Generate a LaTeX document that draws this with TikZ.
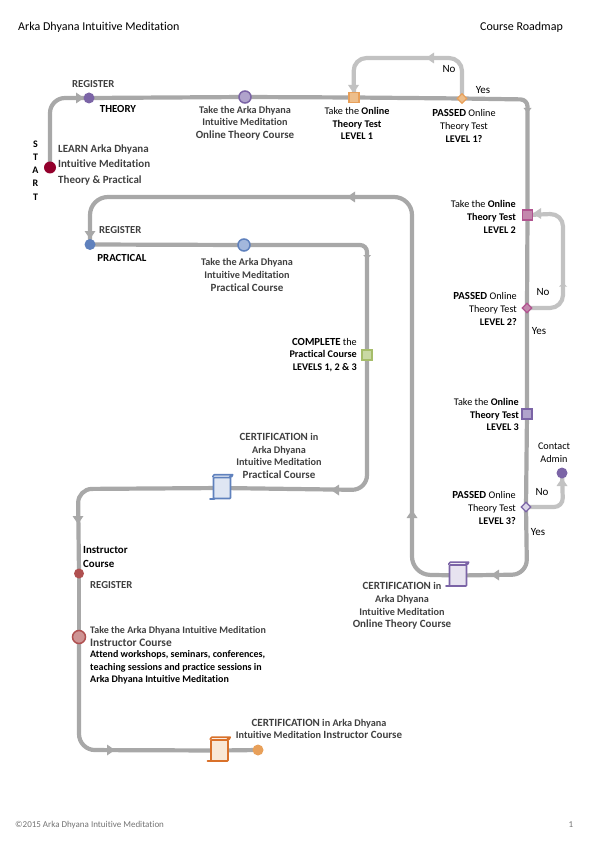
\documentclass[tikz,border=0pt]{standalone}
\usepackage{fontspec}
\setmainfont[Ligatures=NoCommon]{Carlito}
\usetikzlibrary{shapes.geometric,backgrounds}
\definecolor{mainline}{HTML}{A8A8A8}
\definecolor{lightline}{HTML}{C2C2C2}
\definecolor{txtgray}{HTML}{404040}
\definecolor{purp}{HTML}{7B64A6}
\definecolor{purpl}{HTML}{B0A3CC}
\definecolor{blu}{HTML}{5F81BD}
\definecolor{blul}{HTML}{A3B7DC}
\definecolor{orng}{HTML}{E8A05A}
\definecolor{orngl}{HTML}{EDBE8B}
\definecolor{pnk}{HTML}{B0548F}
\definecolor{pnkl}{HTML}{C388AD}
\definecolor{grn}{HTML}{A6BD6A}
\definecolor{grnl}{HTML}{C9D9A4}
\definecolor{redd}{HTML}{93002C}
\definecolor{rosy}{HTML}{AF5050}
\definecolor{rosyl}{HTML}{CE9494}
\definecolor{scrO}{HTML}{D9712A}
\newcommand{\fsA}{\fontsize{10.2}{12.6}\selectfont}
\newcommand{\fsB}{\fontsize{11}{12.6}\selectfont}
\newcommand{\fsC}{\fontsize{10.8}{12.6}\selectfont}
\tikzset{
  mainpath/.style={draw=mainline,line width=4.2pt},
  lightpath/.style={draw=lightline,line width=4.2pt},
  dotnode/.style={circle,inner sep=0pt,minimum size=#1},
  ringnode/.style={circle,inner sep=0pt,minimum size=#1,line width=1.5pt},
  sqnode/.style={rectangle,inner sep=0pt,minimum size=10pt,line width=1.5pt},
  dianode/.style={diamond,inner sep=0pt,minimum size=10pt,line width=1.2pt},
  scrollnode/.style={rectangle,rounded corners=0.8pt,inner sep=0pt,minimum width=17pt,minimum height=21pt,line width=1.6pt},
  lbl/.style={inner sep=0pt,align=center,text=black,font=\fsA},
  lblr/.style={lbl,align=right,anchor=east},
  lbll/.style={lbl,align=left,anchor=west},
  gry/.style={text=txtgray,font=\fsA\bfseries},
  yn/.style={inner sep=0pt,text=black,font=\fontsize{11}{12}\selectfont},
}
\newcommand{\tipR}[3][mainline]{\fill[#1] (#2+3,#3) -- (#2-5,#3-5.5) -- (#2-5,#3+5.5) -- cycle;}
\newcommand{\tipL}[3][mainline]{\fill[#1] (#2-3,#3) -- (#2+5,#3-5.5) -- (#2+5,#3+5.5) -- cycle;}
\newcommand{\tipD}[3][mainline]{\fill[#1] (#2,#3+3) -- (#2-5.5,#3-5) -- (#2+5.5,#3-5) -- cycle;}
\newcommand{\tipU}[3][mainline]{\fill[#1] (#2,#3-3) -- (#2-5.5,#3+5) -- (#2+5.5,#3+5) -- cycle;}
\newcommand{\rolls}[2]{%
  \draw[#2,line width=1.6pt,line join=round,line cap=round] (#1.north west) -- ++(1.5,-2) -- ++(18.5,0) -- ++(-1,2) -- ++(-2,0);
  \draw[#2,line width=2.4pt,line cap=round] (#1.south west) ++(-2.5,-0.6) -- ++(4,0);
}
\begin{document}
\begin{tikzpicture}[x=1pt,y=-1pt]
\useasboundingbox (0,0) rectangle (595,842);
% waypoints
\coordinate (c1) at (50,98);
\coordinate (c2) at (527.5,99.5);
\coordinate (c3) at (527,574.5);
\coordinate (c4) at (412,574.5);
\coordinate (c5) at (412,197);
\coordinate (c6) at (90,197);
\coordinate (c7) at (367,245);
\coordinate (c8) at (367,490);
\coordinate (c9) at (78,489);
\coordinate (c10) at (79,750);
\coordinate (l1) at (462,58);
\coordinate (l2) at (353.5,58);
\coordinate (l3) at (563,308);
\coordinate (l4) at (563,213.5);
\coordinate (l5) at (563,507);
% nodes
\node[dotnode=12pt,fill=redd] (start) at (50,167.5) {};
\node[dotnode=11pt,fill=purp] (regT) at (89,98) {};
\node[ringnode=12pt,draw=purp,fill=purpl] (courseT) at (245,97) {};
\node[sqnode,draw=orng,fill=orngl] (test1) at (354,97.5) {};
\node[dianode,draw=orng,fill=orngl] (pass1) at (462,98.5) {};
\node[sqnode,draw=pnk,fill=pnkl] (test2) at (527.5,215) {};
\node[dianode,draw=pnk,fill=pnkl] (pass2) at (527,308) {};
\node[sqnode,draw=purp,fill=purpl] (test3) at (527,414) {};
\node[dianode,draw=purp,fill=purpl!45] (pass3) at (526,507) {};
\node[dotnode=11pt,fill=purp] (admin) at (562,473) {};
\node[scrollnode,draw=purp,fill=purpl!30] (certT) at (458,575.5) {};
\node[dotnode=11pt,fill=blu] (regP) at (90,244.5) {};
\node[ringnode=12pt,draw=blu,fill=blul] (courseP) at (244,245) {};
\node[sqnode,draw=grn,fill=grnl] (complete) at (367,355) {};
\node[scrollnode,draw=blu,fill=blul!35] (certP) at (222,488) {};
\node[dotnode=10pt,fill=rosy] (regI) at (79,573.5) {};
\node[ringnode=13pt,draw=rosy,fill=rosyl] (courseI) at (79,637) {};
\node[scrollnode,draw=scrO,fill=orngl!35] (certI) at (219.5,750.5) {};
\node[dotnode=11pt,fill=orng] (endI) at (258,750) {};
\rolls{certT}{purp}
\rolls{certP}{blu}
\rolls{certI}{scrO}
% connectors
\begin{pgfonlayer}{background}
\draw[lightpath,rounded corners=13pt] (pass1.center) -- (l1) -- (l2) -- (test1.center);
\draw[lightpath,rounded corners=13pt] (pass2.center) -- (l3) -- (l4) -- (test2.center);
\draw[lightpath,rounded corners=9pt] (pass3.center) -- (l5) -- (admin.center);
\tipL[lightline]{429}{58}
\tipD[lightline]{353.5}{90}
\tipL[lightline]{536}{213.5}
\fill[lightline] (563,283) -- (559,286.5) -- (567,286.5) -- cycle;
\tipU[lightline]{562}{481}
\draw[mainpath,rounded corners=15pt] (start.center) -- (c1) -- (regT.center);
\draw[mainpath] (regT.center) -- (courseT.center) -- (test1.center) -- (pass1.center);
\draw[mainpath,rounded corners=7pt] (pass1.center) -- (c2) -- (test2.center);
\draw[mainpath] (test2.center) -- (pass2.center) -- (test3.center) -- (pass3.center);
\draw[mainpath,rounded corners=15pt] (pass3.center) -- (c3) -- (certT.center);
\draw[mainpath,rounded corners=18pt] (certT.center) -- (c4) -- (c5) -- (c6) -- (regP.center);
\draw[mainpath] (regP.center) -- (courseP.center);
\draw[mainpath,rounded corners=7pt] (courseP.center) -- (c7) -- (complete.center);
\draw[mainpath,rounded corners=15pt] (complete.center) -- (c8) -- (certP.center);
\draw[mainpath,rounded corners=14pt] (certP.center) -- (c9) -- (regI.center);
\draw[mainpath] (regI.center) -- (courseI.center);
\draw[mainpath,rounded corners=16pt] (courseI.center) -- (c10) -- (certI.center);
\draw[mainpath] (certI.center) -- (endI.center);
\tipR{81}{98}
\fill[mainline] (527.5,113) -- (523.5,108) -- (531.5,108) -- cycle;
\tipL{494}{575}
\tipU{412}{513}
\tipL{350}{197}
\tipD{90}{236}
\fill[mainline] (367,259) -- (363,255) -- (371,255) -- cycle;
\tipL{334}{490}
\tipD{78}{521}
\tipR{112}{750}
\end{pgfonlayer}
% labels
\node[inner sep=0pt,anchor=west,font=\fontsize{12}{14}\selectfont] (hdrL) at (18,27) {Arka Dhyana Intuitive Meditation};
\node[inner sep=0pt,anchor=east,font=\fontsize{12}{14}\selectfont] (hdrR) at (563,27.5) {Course Roadmap};
\node[inner sep=0pt,anchor=west,text=black!55,font=\fontsize{9}{10}\selectfont] (ftL) at (15,825) {©2015 Arka Dhyana Intuitive Meditation};
\node[inner sep=0pt,text=black!55,font=\fontsize{9}{10}\selectfont] (ftR) at (571,825) {1};

\node[lbll,text=txtgray,font=\fontsize{10.7}{12}\selectfont\bfseries] (tRegT) at (72,84) {REGISTER};
\node[lbl,font=\fontsize{10.8}{12}\selectfont\bfseries] (tTheory) at (118,108.5) {THEORY};
\node[lbl,font=\fontsize{10}{13.2}\selectfont\bfseries] (tStart) at (35.5,170.5) {S\\T\\A\\R\\T};
\node[lbll,text=txtgray,font=\fontsize{11}{15.7}\selectfont\bfseries] (tLearn) at (58,165) {LEARN Arka Dhyana\\Intuitive Meditation\\Theory \& Practical};
\node[lbl,gry] (tCourseT) at (245,123) {Take the Arka Dhyana\\Intuitive Meditation\\{\fsB Online Theory Course}};
\node[lbl] (tTest1) at (357,123.5) {Take the \textbf{Online}\\\textbf{Theory Test}\\\textbf{LEVEL 1}};
\node[lbl] (tPass1) at (464,126) {{\fsC\textbf{PASSED}} Online\\Theory Test\\\textbf{LEVEL 1?}};
\node[yn] (no1) at (449,69) {No};
\node[yn] (yes1) at (483,90.5) {Yes};
\node[lblr] (tTest2) at (516,217) {Take the \textbf{Online}\\\textbf{Theory Test}\\\textbf{LEVEL 2}};
\node[lblr] (tPass2) at (517,309) {{\fsC\textbf{PASSED}} Online\\Theory Test\\\textbf{LEVEL 2?}};
\node[yn] (no2) at (543,292.5) {No};
\node[yn] (yes2) at (539,331.5) {Yes};
\node[lblr] (tTest3) at (519,414.5) {Take the \textbf{Online}\\\textbf{Theory Test}\\\textbf{LEVEL 3}};
\node[lblr] (tPass3) at (516,508) {{\fsC\textbf{PASSED}} Online\\Theory Test\\\textbf{LEVEL 3?}};
\node[lbl] (tAdmin) at (554,453) {Contact\\Admin};
\node[yn] (no3) at (542,492) {No};
\node[yn] (yes3) at (538,532) {Yes};
\node[lbl,gry] (tCertT) at (402,606) {{\fsB CERTIFICATION {\fsA in}}\\Arka Dhyana\\Intuitive Meditation\\{\fsB Online Theory Course}};
\node[lbll,text=txtgray,font=\fontsize{10.7}{12}\selectfont\bfseries] (tRegP) at (99,230.5) {REGISTER};
\node[lbl,font=\fontsize{10.8}{12}\selectfont\bfseries] (tPractical) at (122,258) {PRACTICAL};
\node[lbl,gry] (tCourseP) at (247,275) {Take the Arka Dhyana\\Intuitive Meditation\\{\fsB Practical Course}};
\node[lblr] (tComplete) at (357,355) {{\fsC\textbf{COMPLETE}} the\\\textbf{Practical Course}\\\textbf{LEVELS 1, 2 \& 3}};
\node[lbl,gry] (tCertP) at (279,456) {{\fsB CERTIFICATION {\fsA in}}\\Arka Dhyana\\Intuitive Meditation\\{\fsB Practical Course}};
\node[lbll,font=\fontsize{10.9}{13.6}\selectfont\bfseries] (tInstr) at (83,557) {Instructor\\Course};
\node[lbll,text=txtgray,font=\fontsize{10.7}{12}\selectfont\bfseries] (tRegI) at (90,585.5) {REGISTER};
\node[lbll,text=txtgray,font=\fontsize{10}{12.6}\selectfont\bfseries] (tCourseI) at (90,636.5) {Take the Arka Dhyana Intuitive Meditation\\{\fontsize{11.4}{12.6}\selectfont Instructor Course}};
\node[lbll,font=\fontsize{10}{12.6}\selectfont\bfseries] (tAttend) at (90,667.5) {Attend workshops, seminars, conferences,\\teaching sessions and practice sessions in\\Arka Dhyana Intuitive Meditation};
\node[lbl,gry] (tCertI) at (319,729) {{\fsB CERTIFICATION} in Arka Dhyana\\Intuitive Meditation {\fsB Instructor Course}};
\end{tikzpicture}
\end{document}
